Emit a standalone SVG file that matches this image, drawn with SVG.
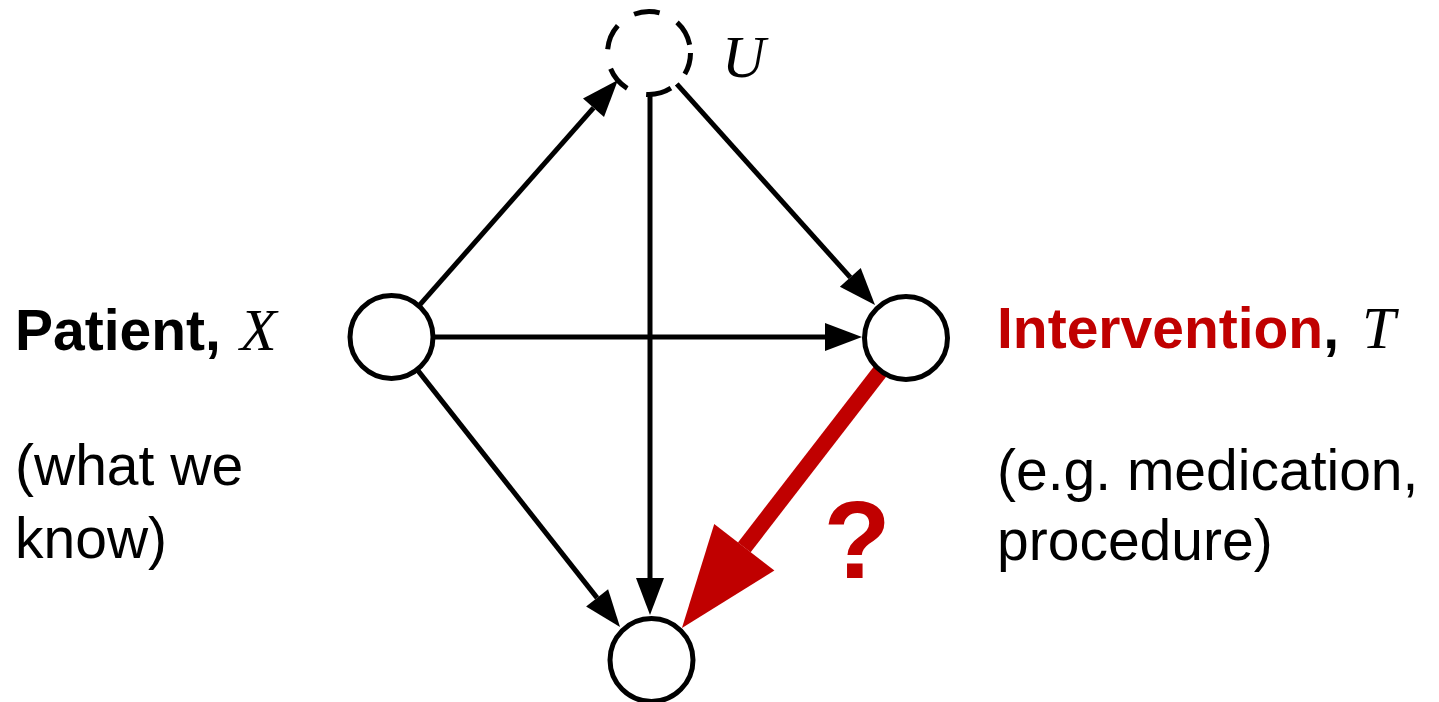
<svg xmlns="http://www.w3.org/2000/svg" width="1439" height="702" viewBox="0 0 1439 702">
<style>
.node{fill:#fff;stroke:#000;stroke-width:5}
.dashed{stroke-dasharray:26 20;stroke-dashoffset:4}
.edge{stroke:#000;stroke-width:5;fill:none}
.red{stroke:#C00000;stroke-width:16;fill:none}
.lbl{font-family:"Liberation Sans",Arial,sans-serif;font-size:57px;fill:#000}
.b{font-weight:bold}
.math{font-family:"Liberation Serif","DejaVu Serif",serif;font-style:italic;font-size:60px}
.rt{fill:#C00000}
</style>
<defs>
<marker id="ah" markerUnits="userSpaceOnUse" markerWidth="40" markerHeight="30" refX="0" refY="0" orient="auto" overflow="visible">
<path d="M0,-14 L37,0 L0,14 Z" fill="#000"/>
</marker>
<marker id="ahr" markerUnits="userSpaceOnUse" markerWidth="110" markerHeight="80" refX="0" refY="0" orient="auto" overflow="visible">
<path d="M0,-38 L102,0 L0,38 Z" fill="#C00000"/>
</marker>
</defs>
<rect width="1439" height="702" fill="#fff"/>
<g id="connectors">
<line class="edge" x1="418.9" y1="305.9" x2="593.5" y2="107.8" marker-end="url(#ah)"/>
<line class="edge" x1="676.7" y1="83.9" x2="850.3" y2="277.4" marker-end="url(#ah)"/>
<line class="edge" x1="433" y1="337" x2="825" y2="337" marker-end="url(#ah)"/>
<line class="edge" x1="650" y1="94.5" x2="650" y2="578" marker-end="url(#ah)"/>
<line class="edge" x1="417.2" y1="369.6" x2="597.1" y2="597.9" marker-end="url(#ah)"/>
<line class="red" x1="880.6" y1="370.8" x2="744.3" y2="547.3" marker-end="url(#ahr)"/>
</g>
<g id="node-U">
<circle class="node dashed" cx="649" cy="53" r="41.5"/>
<text class="math" x="722" y="77" font-size="62">U</text>
</g>
<g id="node-X">
<circle class="node" cx="391.5" cy="337" r="41.5"/>
<text class="lbl" x="15" y="350"><tspan class="b">Patient</tspan><tspan class="b">,</tspan><tspan class="math" x="240">X</tspan></text>
<text class="lbl" x="15" y="485">(what we</text>
<text class="lbl" x="15" y="558">know)</text>
</g>
<g id="node-T">
<circle class="node" cx="906" cy="338" r="41.5"/>
<text class="lbl" x="997" y="348"><tspan class="b rt">Intervention</tspan><tspan class="b">,</tspan><tspan class="math" x="1362">T</tspan></text>
<text class="lbl" x="997" y="490">(e.g. medication,</text>
<text class="lbl" x="997" y="560">procedure)</text>
</g>
<g id="node-Y">
<circle class="node" cx="651.5" cy="660" r="41.5"/>
</g>
<g id="label-q">
<text x="857" y="578" text-anchor="middle" font-family="Liberation Sans,Arial,sans-serif" font-weight="bold" font-size="110" fill="#C00000">?</text>
</g>
</svg>
